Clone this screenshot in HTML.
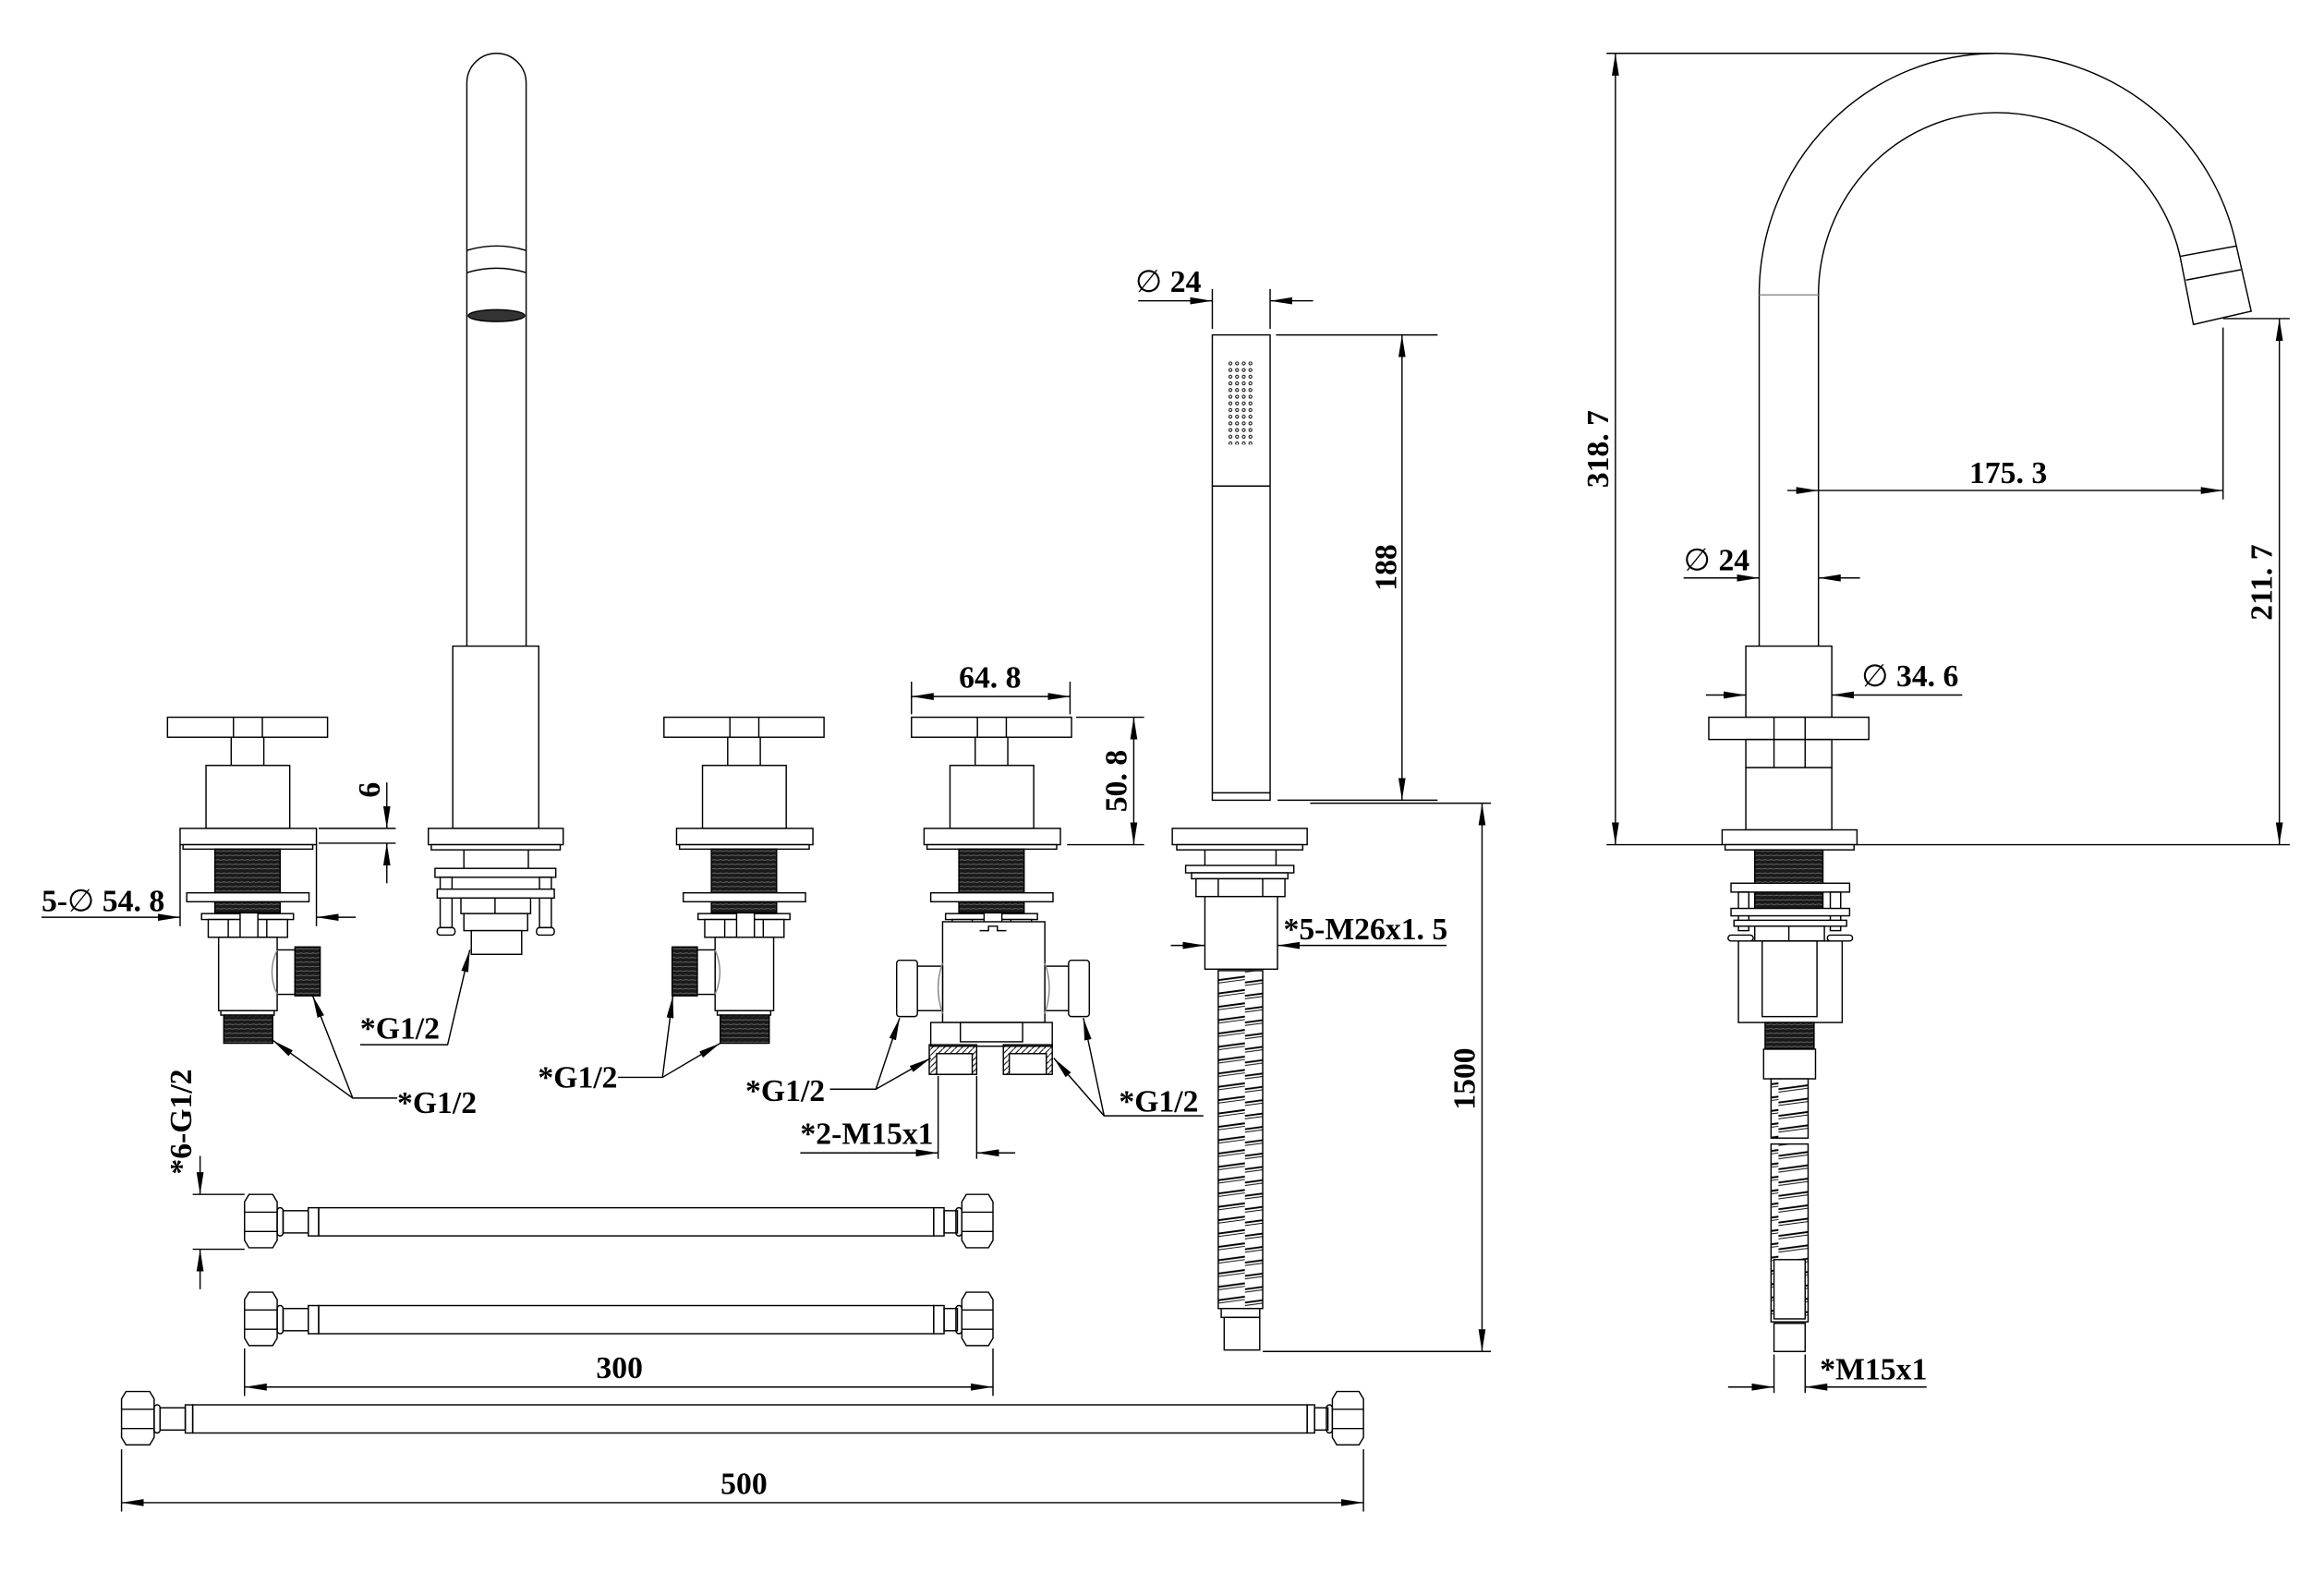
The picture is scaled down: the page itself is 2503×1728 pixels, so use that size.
<!DOCTYPE html>
<html><head><meta charset="utf-8"><style>
html,body{margin:0;padding:0;background:#fff;}
svg{display:block;}
text{font-family:"Liberation Serif",serif;font-weight:bold;font-size:21px;fill:#000;}
</style></head><body>
<svg width="2503" height="1728" viewBox="0 0 1560 1077" xmlns="http://www.w3.org/2000/svg">
<defs>
<marker id="a" markerWidth="16" markerHeight="6" refX="15" refY="3" orient="auto-start-reverse" markerUnits="userSpaceOnUse"><path d="M0,0.6 L15,3 L0,5.4z" fill="#000"/></marker>
<pattern id="thr" width="4" height="3" patternUnits="userSpaceOnUse"><rect width="4" height="3" fill="#1a1a1a"/><line x1="0" y1="1.5" x2="4" y2="1" stroke="#777" stroke-width="0.5"/></pattern>
<pattern id="hose" width="30" height="9" patternUnits="userSpaceOnUse"><rect width="30" height="9" fill="#fff"/><path d="M0,6 L30,2" stroke="#000" stroke-width="1.2"/><path d="M0,8 L30,4" stroke="#000" stroke-width="0.6"/></pattern>
<pattern id="hat" width="4" height="4" patternUnits="userSpaceOnUse"><path d="M0,4 L4,0" stroke="#000" stroke-width="0.6"/></pattern>
<pattern id="dots" width="4.5" height="4.5" patternUnits="userSpaceOnUse"><circle cx="2.2" cy="2.2" r="1" fill="none" stroke="#000" stroke-width="0.6"/></pattern>
<g id="valveTop" fill="#fff" stroke="#000" stroke-width="0.9">
<rect x="113" y="484" width="108" height="13.5"/>
<line x1="157.5" y1="484" x2="157.5" y2="497.5"/><line x1="177" y1="484" x2="177" y2="497.5"/>
<rect x="156" y="497.5" width="22" height="19"/>
<rect x="139" y="516.5" width="56.5" height="42.5"/>
<rect x="121.5" y="559" width="92" height="11"/>
<rect x="123.5" y="570" width="87.5" height="3"/>
<rect x="145" y="573" width="44" height="43" fill="url(#thr)"/>
<rect x="126" y="602.5" width="82.5" height="6"/>
<rect x="136" y="616.5" width="62" height="4"/>
<rect x="140.5" y="620.5" width="53.5" height="12"/>
<line x1="154" y1="620.5" x2="154" y2="632.5"/><line x1="180" y1="620.5" x2="180" y2="632.5"/>
<rect x="162" y="616" width="12" height="30"/>
<rect x="160" y="642" width="16" height="6"/>
</g>
</defs>
<g fill="none" stroke="#000" stroke-width="0.9">
<!-- LEFT VALVE -->
<use href="#valveTop"/>
<rect x="147.5" y="632.5" width="39.5" height="49.5" fill="#fff"/>
<rect x="187" y="641" width="12" height="30" fill="#fff"/>
<path d="M187,641 Q180,656 187,671" stroke="#888"/>
<rect x="199" y="639" width="17" height="33" fill="url(#thr)"/>
<rect x="149" y="682" width="36" height="3"/>
<rect x="151" y="685" width="33" height="19" fill="url(#thr)"/>
<!-- MIDDLE VALVE -->
<use href="#valveTop" x="335"/>
<rect x="482.5" y="632.5" width="39.5" height="49.5" fill="#fff"/>
<rect x="470" y="641" width="12.5" height="30" fill="#fff"/>
<path d="M482.5,641 Q489,656 482.5,671" stroke="#888"/>
<rect x="453.5" y="639" width="17" height="33" fill="url(#thr)"/>
<rect x="484" y="682" width="36" height="3"/>
<rect x="486" y="685" width="33" height="19" fill="url(#thr)"/>
<!-- RIGHT (DIVERTER) VALVE -->
<use href="#valveTop" x="502"/>
<rect x="636" y="622" width="69" height="68" fill="#fff"/>
<path d="M661,628 h6 v-3 h6 v3 h6" />
<rect x="618" y="652" width="18" height="30" fill="#fff"/>
<rect x="605" y="648" width="14" height="38" rx="2" fill="#fff"/>
<rect x="705" y="652" width="18" height="30" fill="#fff"/>
<rect x="721" y="648" width="14" height="38" rx="2" fill="#fff"/>
<path d="M636,650 Q630,666 636,684 M705,650 Q711,666 705,684" stroke="#888"/>
<rect x="628" y="690" width="82" height="16" fill="#fff"/>
<rect x="648" y="690" width="42" height="13" fill="#fff"/>
<rect x="627" y="705" width="32" height="20" fill="url(#hat)"/>
<rect x="632" y="711" width="24" height="14" fill="#fff"/>
<rect x="677" y="705" width="33" height="20" fill="url(#hat)"/>
<rect x="681" y="711" width="25" height="14" fill="#fff"/>
<!-- TALL SPOUT -->
<path d="M315,436 V56 A20,20 0 0 1 355,56 V436"/>
<path d="M315,169 Q335,163 355,169 M315,184 Q335,178 355,184"/>
<ellipse cx="335" cy="213" rx="19" ry="4" fill="#333"/>
<rect x="305.5" y="436" width="58" height="123" fill="#fff"/>
<rect x="289" y="559" width="91" height="11" fill="#fff"/>
<rect x="291" y="570" width="87" height="3.5" fill="#fff"/>
<line x1="313" y1="573.5" x2="313" y2="586"/><line x1="356.5" y1="573.5" x2="356.5" y2="586"/>
<rect x="293.5" y="586" width="81.5" height="6" fill="#fff"/>
<rect x="297" y="592" width="8" height="34" fill="#fff"/><rect x="364" y="592" width="8" height="34" fill="#fff"/>
<rect x="295" y="600" width="79" height="6" fill="#fff"/>
<rect x="311" y="606" width="47" height="10.5" fill="#fff"/>
<line x1="334" y1="606" x2="334" y2="616.5"/>
<rect x="313" y="616.5" width="43" height="11.5" fill="#fff"/>
<rect x="318" y="628" width="34" height="16" fill="#fff"/>
<rect x="295" y="626" width="12" height="5" rx="2" fill="#fff"/><rect x="362" y="626" width="12" height="5" rx="2" fill="#fff"/>
<!-- HAND SHOWER -->
<rect x="818" y="226" width="39" height="314" fill="#fff"/>
<rect x="828" y="244" width="18" height="56" fill="url(#dots)" stroke="none"/>
<line x1="818" y1="328" x2="857" y2="328"/>
<line x1="818" y1="535" x2="857" y2="535"/>
<rect x="791" y="559" width="91" height="11" fill="#fff"/>
<rect x="794" y="570" width="85" height="3.5" fill="#fff"/>
<line x1="813" y1="573.5" x2="813" y2="584"/><line x1="861" y1="573.5" x2="861" y2="584"/>
<rect x="800" y="584" width="73" height="5" fill="#fff"/>
<rect x="804" y="589" width="65" height="4" fill="#fff"/>
<rect x="807" y="593" width="60" height="12" fill="#fff"/>
<line x1="822" y1="593" x2="822" y2="605"/><line x1="852" y1="593" x2="852" y2="605"/>
<rect x="813" y="605" width="49" height="49" fill="#fff"/>
<rect x="822" y="655" width="30" height="228" fill="url(#hose)"/>
<rect x="824" y="883" width="26" height="6" fill="#fff"/>
<rect x="826" y="889" width="24" height="22" fill="#fff"/>
<!-- RIGHT SPOUT -->
<path d="M1187,436 V199 A160,163 0 0 1 1347,36 A165.5,163 0 0 1 1509,166 L1519,210 L1480,219 L1471,173 A127,123 0 0 0 1347,76 A120,123 0 0 0 1227,199 V436"/>
<line x1="1187" y1="199" x2="1227" y2="199" stroke="#888"/>
<path d="M1471,173 L1509,166 M1475,189 L1512,182"/>
<rect x="1178" y="436" width="58" height="48" fill="#fff"/>
<rect x="1153" y="484" width="108" height="15" fill="#fff"/>
<line x1="1197" y1="484" x2="1197" y2="518"/><line x1="1218" y1="484" x2="1218" y2="518"/>
<rect x="1178" y="499" width="58" height="19"/>
<rect x="1178" y="518" width="58" height="42" fill="#fff"/>
<rect x="1162" y="560" width="91" height="10" fill="#fff"/>
<rect x="1164" y="570" width="87" height="3.5" fill="#fff"/>
<rect x="1184" y="573.5" width="46" height="43" fill="url(#thr)"/>
<rect x="1168" y="596" width="80" height="6" fill="#fff"/>
<rect x="1173" y="602" width="7" height="26"/><rect x="1235" y="602" width="7" height="26"/>
<rect x="1168" y="613" width="80" height="5" fill="#fff"/>
<rect x="1170" y="621" width="76" height="4" fill="#fff"/>
<rect x="1184" y="625" width="47" height="10" fill="#fff"/><line x1="1207" y1="625" x2="1207" y2="635"/>
<rect x="1173" y="635" width="70" height="55" fill="#fff"/>
<rect x="1189" y="635" width="37" height="51"/>
<rect x="1166" y="631" width="17" height="4" rx="2" fill="#fff"/><rect x="1233" y="631" width="17" height="4" rx="2" fill="#fff"/>
<rect x="1191" y="690" width="33" height="18" fill="url(#thr)"/>
<rect x="1190" y="708" width="35" height="20" fill="#fff"/>
<rect x="1195" y="728" width="25" height="40" fill="url(#hose)"/>
<rect x="1195" y="772" width="25" height="120" fill="url(#hose)"/>
<rect x="1197" y="850" width="21" height="40" fill="#fff"/>
<rect x="1197" y="893" width="21" height="19" fill="#fff"/>
<!-- HOSES -->
<g id="h1">
<path d="M165,811 l3,-5 h16 l3,5 v26 l-3,5 h-16 l-3,-5z" fill="#fff"/><line x1="165" y1="818" x2="187" y2="818"/><line x1="165" y1="831" x2="187" y2="831"/>
<rect x="187" y="815" width="4" height="19" rx="2"/><rect x="191" y="817" width="17" height="15"/>
<rect x="208" y="815" width="7" height="19"/>
<rect x="215" y="815" width="415" height="19"/>
<rect x="630" y="815" width="7" height="19"/><rect x="637" y="817" width="9" height="15"/><rect x="645" y="815" width="4" height="19" rx="2"/>
<path d="M649,811 l3,-5 h15 l3,5 v26 l-3,5 h-15 l-3,-5z" fill="#fff"/><line x1="649" y1="818" x2="670" y2="818"/><line x1="649" y1="831" x2="670" y2="831"/>
</g>
<use href="#h1" y="66"/>
<path d="M82,944 l3,-5 h16 l3,5 v26 l-3,5 h-16 l-3,-5z" fill="#fff"/><line x1="82" y1="951" x2="104" y2="951"/><line x1="82" y1="964" x2="104" y2="964"/>
<rect x="104" y="948" width="4" height="19" rx="2"/><rect x="108" y="950" width="17" height="15"/>
<rect x="125" y="948" width="5" height="19"/><rect x="130" y="948" width="752" height="19"/>
<rect x="882" y="948" width="5" height="19"/><rect x="887" y="950" width="9" height="15"/><rect x="895" y="948" width="4" height="19" rx="2"/>
<path d="M899,944 l3,-5 h15 l3,5 v26 l-3,5 h-15 l-3,-5z" fill="#fff"/><line x1="899" y1="951" x2="920" y2="951"/><line x1="899" y1="964" x2="920" y2="964"/>
</g>
<!-- DIMENSIONS -->
<g fill="none" stroke="#000" stroke-width="0.9">
<line x1="215" y1="559" x2="267" y2="559"/><line x1="215" y1="569" x2="267" y2="569"/>
<line x1="261" y1="528" x2="261" y2="559" marker-end="url(#a)"/>
<line x1="261" y1="596" x2="261" y2="569" marker-end="url(#a)"/>
<line x1="121.5" y1="570" x2="121.5" y2="625"/><line x1="213.5" y1="570" x2="213.5" y2="625"/>
<line x1="28" y1="619" x2="121.5" y2="619" marker-end="url(#a)"/>
<line x1="240" y1="619" x2="213.5" y2="619" marker-end="url(#a)"/>
<path d="M243,705 H302 L317,641" marker-end="url(#a)"/>
<path d="M268,741 H238 L211,672" marker-end="url(#a)"/>
<line x1="238" y1="741" x2="184" y2="702" marker-end="url(#a)"/>
<path d="M417,727 H447 L454,672" marker-end="url(#a)"/>
<line x1="447" y1="727" x2="486" y2="704" marker-end="url(#a)"/>
<path d="M560,735 H591 L607,687" marker-end="url(#a)"/>
<line x1="591" y1="735" x2="628" y2="714" marker-end="url(#a)"/>
<path d="M812,753 H745 L731,687" marker-end="url(#a)"/>
<line x1="745" y1="753" x2="711" y2="714" marker-end="url(#a)"/>
<line x1="633" y1="726" x2="633" y2="782"/><line x1="659" y1="726" x2="659" y2="782"/>
<line x1="540" y1="778" x2="633" y2="778" marker-end="url(#a)"/>
<line x1="685" y1="778" x2="659" y2="778" marker-end="url(#a)"/>
<line x1="615" y1="460" x2="615" y2="482"/><line x1="722" y1="460" x2="722" y2="482"/>
<line x1="615" y1="470" x2="722" y2="470" marker-start="url(#a)" marker-end="url(#a)"/>
<line x1="726" y1="484" x2="772" y2="484"/><line x1="720" y1="570" x2="772" y2="570"/>
<line x1="765" y1="484" x2="765" y2="570" marker-start="url(#a)" marker-end="url(#a)"/>
<line x1="818" y1="195" x2="818" y2="222"/><line x1="857" y1="195" x2="857" y2="222"/>
<line x1="768" y1="203" x2="818" y2="203" marker-end="url(#a)"/>
<line x1="886" y1="203" x2="857" y2="203" marker-end="url(#a)"/>
<line x1="861" y1="226" x2="970" y2="226"/><line x1="862" y1="540" x2="970" y2="540"/>
<line x1="946" y1="226" x2="946" y2="540" marker-start="url(#a)" marker-end="url(#a)"/>
<line x1="884" y1="542" x2="1006" y2="542"/><line x1="852" y1="912" x2="1006" y2="912"/>
<line x1="1000" y1="542" x2="1000" y2="912" marker-start="url(#a)" marker-end="url(#a)"/>
<line x1="790" y1="638" x2="813" y2="638" marker-end="url(#a)"/>
<line x1="976" y1="638" x2="862" y2="638" marker-end="url(#a)"/>
<line x1="130" y1="806" x2="165" y2="806"/><line x1="130" y1="843" x2="165" y2="843"/>
<line x1="135" y1="780" x2="135" y2="806" marker-end="url(#a)"/>
<line x1="135" y1="870" x2="135" y2="843" marker-end="url(#a)"/>
<line x1="165" y1="910" x2="165" y2="942"/><line x1="670" y1="910" x2="670" y2="942"/>
<line x1="165" y1="936" x2="670" y2="936" marker-start="url(#a)" marker-end="url(#a)"/>
<line x1="82" y1="978" x2="82" y2="1020"/><line x1="920" y1="978" x2="920" y2="1020"/>
<line x1="82" y1="1014" x2="920" y2="1014" marker-start="url(#a)" marker-end="url(#a)"/>
<line x1="1084" y1="36" x2="1347" y2="36"/>
<line x1="1084" y1="570" x2="1162" y2="570"/><line x1="1253" y1="570" x2="1545" y2="570"/>
<line x1="1090" y1="36" x2="1090" y2="570" marker-start="url(#a)" marker-end="url(#a)"/>
<line x1="1500" y1="215" x2="1545" y2="215"/>
<line x1="1538" y1="215" x2="1538" y2="570" marker-start="url(#a)" marker-end="url(#a)"/>
<line x1="1500" y1="221" x2="1500" y2="337"/>
<line x1="1206" y1="331" x2="1227" y2="331" marker-end="url(#a)"/>
<line x1="1227" y1="331" x2="1500" y2="331" marker-end="url(#a)"/>
<line x1="1136" y1="390" x2="1187" y2="390" marker-end="url(#a)"/>
<line x1="1255" y1="390" x2="1227" y2="390" marker-end="url(#a)"/>
<line x1="1151" y1="469" x2="1178" y2="469" marker-end="url(#a)"/>
<line x1="1324" y1="469" x2="1236" y2="469" marker-end="url(#a)"/>
<line x1="1197" y1="914" x2="1197" y2="940"/><line x1="1218" y1="914" x2="1218" y2="940"/>
<line x1="1166" y1="936" x2="1197" y2="936" marker-end="url(#a)"/>
<line x1="1300" y1="936" x2="1218" y2="936" marker-end="url(#a)"/>
</g>
<!-- TEXT -->
<text x="243" y="701">*G1/2</text>
<text x="268" y="751">*G1/2</text>
<text x="363" y="734">*G1/2</text>
<text x="503" y="743">*G1/2</text>
<text x="755" y="750">*G1/2</text>
<text x="540" y="772">*2-M15x1</text>
<text x="28" y="615">5-<tspan font-weight="normal">∅</tspan> 54. 8</text>
<text transform="translate(256,533) rotate(-90)" text-anchor="middle">6</text>
<text x="668" y="464" text-anchor="middle">64. 8</text>
<text transform="translate(760,527) rotate(-90)" text-anchor="middle">50. 8</text>
<text x="766" y="197"><tspan font-weight="normal">∅</tspan> 24</text>
<text transform="translate(942,383) rotate(-90)" text-anchor="middle">188</text>
<text transform="translate(995,728) rotate(-90)" text-anchor="middle">1500</text>
<text x="866" y="634">*5-M26x1. 5</text>
<text transform="translate(129,757) rotate(-90)" text-anchor="middle">*6-G1/2</text>
<text x="418" y="930" text-anchor="middle">300</text>
<text x="502" y="1008" text-anchor="middle">500</text>
<text transform="translate(1085,303) rotate(-90)" text-anchor="middle">318. 7</text>
<text transform="translate(1533,393) rotate(-90)" text-anchor="middle">211. 7</text>
<text x="1355" y="326" text-anchor="middle">175. 3</text>
<text x="1136" y="385"><tspan font-weight="normal">∅</tspan> 24</text>
<text x="1256" y="463"><tspan font-weight="normal">∅</tspan> 34. 6</text>
<text x="1228" y="931">*M15x1</text>
</svg>
</body></html>
